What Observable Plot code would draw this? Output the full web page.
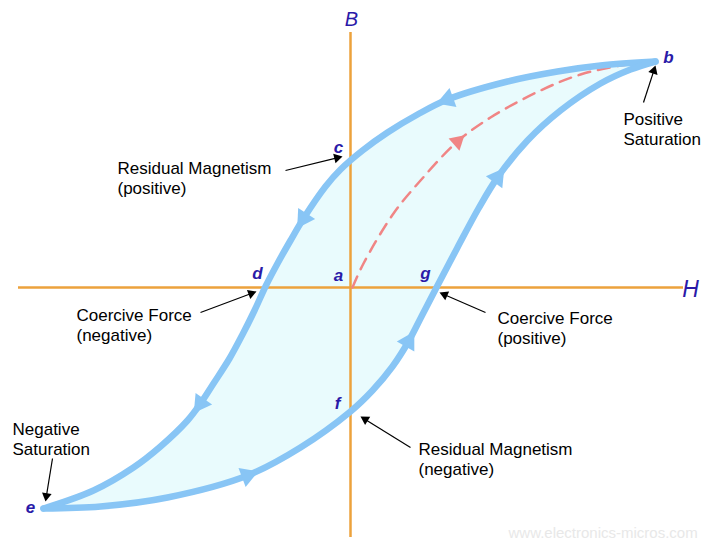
<!DOCTYPE html>
<html><head><meta charset="utf-8">
<script src="https://cdn.jsdelivr.net/npm/d3@7"></script>
<script src="https://cdn.jsdelivr.net/npm/@observablehq/plot@0.6"></script>
<style>body{margin:0;background:#fff}#chart svg{display:block}</style>
</head><body><div id="chart"></div>
<script>
// Hysteresis loop (H horizontal, B vertical), origin at point a
// Descending branch b -> c -> d -> e  ([H, B])
const descending = [[305,226],[250,222],[207,216],[157,206],[97,188],[67,173],[37,155],[12,137],[-10,118],[-25,101],[-47,69],[-60,47],[-73,24],[-85,1],[-96,-23],[-108,-47],[-121,-71],[-137,-96],[-150,-116],[-163,-133],[-190,-159],[-217,-180],[-257,-203],[-307,-221]];
// Ascending branch e -> f -> g -> b
const ascending = [[-307,-221],[-250,-219],[-183,-210],[-103,-188],[-50,-160],[0,-124],[22,-103],[42,-79],[58,-54],[72,-27],[86,0],[107,40],[128,79],[147,110],[177,147],[210,177],[250,204],[280,218],[305,226]];
// Initial magnetisation curve a -> b
const initial = [[2,0],[13,24],[43,74],[70,107],[107,146],[140,170],[190,197],[230,213],[270,222],[302,226]];
// Direction arrows: which curve and which point index
const loopArrowIdx = {descending: [4, 10, 18], ascending: [3, 8, 13]};
const initialArrowIdx = [4];
// Axes extents
const hAxisExtent = [-332, 333];
const bAxisExtent = [-250, 255];
// Axis names
const axisNames = [{t: "B", H: 1, B: 268, anchor: "middle", size: 20, weight: "bold"}, {t: "H", H: 340, B: -2, anchor: "start", size: 23, weight: "normal"}];
// Point letters
const pointNames = ["a","b","c","d","e","f","g"];
const pointH = [-12, 318, -12, -93, -320, -13, 75];
const pointB = [12, 230, 140, 14, -220, -116, 14];
// Annotations: text (top-left), arrow from -> to
const annText = ["Positive\nSaturation", "Residual Magnetism\n(positive)", "Coercive Force\n(negative)", "Coercive Force\n(positive)", "Residual Magnetism\n(negative)", "Negative\nSaturation"];
const annPos = [[273,176],[-233,127],[-274,-20],[147,-23],[68,-154],[-338,-134]];
const annFrom = [[293,185],[-65,117],[-150,-25],[135,-25],[60,-160],[-298,-171]];
const annTo = [[305,222],[-8,131],[-94,-4],[89,-5],[10,-129],[-305,-214]];
const watermark = "www.electronics-micros.com";

const BLUE = "#88c5f5", FILL = "#e9fbfd", ORANGE = "#eca23c", RED = "#f08585", INK = "#2a1aa8";
const FONT = "Liberation Sans, Arial, sans-serif";

const deg = (dH, dB) => Math.atan2(dH, dB) * 180 / Math.PI;
const curves = {descending, ascending};
const loopArrows = [];
for (const k of ["descending", "ascending"]) for (const i of loopArrowIdx[k]) {
  const c = curves[k], p = c[i - 1], n = c[i + 1];
  loopArrows.push({H: c[i][0], B: c[i][1], rot: deg(n[0] - p[0], n[1] - p[1])});
}
const initArrows = initialArrowIdx.map(i => {
  const p = initial[i - 1], n = initial[i + 1];
  return {H: initial[i][0], B: initial[i][1], rot: deg(n[0] - p[0], n[1] - p[1])};
});
const headR = 3.6;
const ann = annText.map((t, i) => {
  const [fh, fb] = annFrom[i], [th, tb] = annTo[i];
  const dH = th - fh, dB = tb - fb, L = Math.hypot(dH, dB);
  const off = 1.555 * headR;
  return {t, H: annPos[i][0], B: annPos[i][1], fh, fb, ch: th - dH / L * off, cb: tb - dB / L * off, rot: deg(dH, dB)};
});
const loopOutline = descending.concat(ascending);

const chart = Plot.plot({
  width: 703, height: 540, margin: 0,
  x: {domain: [-350, 353], axis: null},
  y: {domain: [-253, 287], axis: null},
  style: {background: "#fff", fontFamily: FONT},
  marks: [
    Plot.line(loopOutline, {x: d => d[0], y: d => d[1], curve: "catmull-rom", fill: FILL, stroke: "none"}),
    Plot.ruleY([0], {x1: hAxisExtent[0], x2: hAxisExtent[1], stroke: ORANGE, strokeWidth: 2.5}),
    Plot.ruleX([0], {y1: bAxisExtent[0], y2: bAxisExtent[1], stroke: ORANGE, strokeWidth: 2.5}),
    Plot.line(initial, {x: d => d[0], y: d => d[1], curve: "catmull-rom", stroke: RED, strokeWidth: 2.5, strokeDasharray: "12,8"}),
    Plot.dot(initArrows, {x: "H", y: "B", rotate: "rot", symbol: "triangle", r: 6, fill: RED, stroke: "none"}),
    Plot.line(descending, {x: d => d[0], y: d => d[1], curve: "catmull-rom", stroke: BLUE, strokeWidth: 6.5}),
    Plot.line(ascending, {x: d => d[0], y: d => d[1], curve: "catmull-rom", stroke: BLUE, strokeWidth: 6.5}),
    Plot.dot(loopArrows, {x: "H", y: "B", rotate: "rot", symbol: "triangle", r: 7.5, fill: BLUE, stroke: "none"}),
    Plot.link(ann, {x1: "fh", y1: "fb", x2: "ch", y2: "cb", stroke: "#000", strokeWidth: 1.2}),
    Plot.dot(ann, {x: "ch", y: "cb", rotate: "rot", symbol: "triangle", r: headR, fill: "#000", stroke: "none"}),
    Plot.text(ann, {x: "H", y: "B", text: "t", textAnchor: "start", lineAnchor: "top", lineHeight: 1.15, fontSize: 17, fill: "#000"}),
    Plot.text(pointNames, {x: (d, i) => pointH[i], y: (d, i) => pointB[i], text: d => d, fontSize: 17, fontWeight: "bold", fontStyle: "italic", fill: INK}),
    Plot.text(axisNames, {x: "H", y: "B", text: "t", textAnchor: d => d.anchor, fontSize: d => d.size, fontWeight: d => d.weight, fontStyle: "italic", fill: INK}),
    Plot.text([watermark], {x: 158, y: -250, text: d => d, textAnchor: "start", lineAnchor: "bottom", fontSize: 15, fill: "#e8e8e8"})
  ]
});
document.getElementById("chart").appendChild(chart);
</script></body></html>
